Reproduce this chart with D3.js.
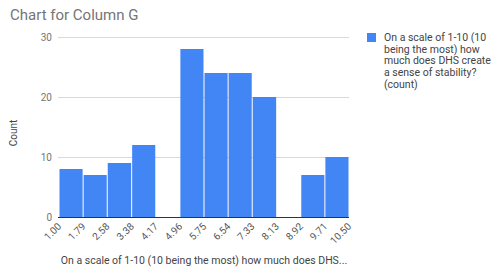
<!DOCTYPE html>
<html><head><meta charset="utf-8">
<script src="https://cdn.jsdelivr.net/npm/d3@7"></script>
<style>body{margin:0;background:#fff;}svg{display:block;font-family:Roboto,"Noto Sans",Arial,sans-serif;}</style>
</head><body><svg id="c" width="491" height="270"></svg>
<script>
const binEdges = [1.00, 1.79, 2.58, 3.38, 4.17, 4.96, 5.75, 6.54, 7.33, 8.13, 8.92, 9.71, 10.50];
const counts = [8, 7, 9, 12, 0, 28, 24, 24, 20, 0, 7, 10];
const yTicks = [0, 10, 20, 30];
const title = "Chart for Column G";
const xTitle = "On a scale of 1-10 (10 being the most) how much does DHS...";
const yTitle = "Count";
const legendLines = ["On a scale of 1-10 (10", "being the most) how", "much does DHS create", "a sense of stability?", "(count)"];

const svg = d3.select("#c");
const x = d3.scaleLinear().domain([1.0, 10.5]).range([59, 349]);
const y = d3.scaleLinear().domain([0, 30]).range([217, 37]);
const bins = counts.map((c, i) => ({x0: binEdges[i], x1: binEdges[i + 1], c}));

svg.append("text").attr("x", 10).attr("y", 20).attr("font-size", 15).attr("fill", "#757575").text(title);

svg.append("g").selectAll("line").data(yTicks.filter(d => d > 0)).join("line")
  .attr("x1", 58).attr("x2", 349).attr("y1", d => y(d)).attr("y2", d => y(d))
  .attr("stroke", "#d9d9d9").attr("stroke-width", 1).attr("shape-rendering", "crispEdges");

svg.append("g").selectAll("text").data(yTicks).join("text")
  .attr("x", 52).attr("y", d => y(d) + 3.5).attr("text-anchor", "end")
  .attr("font-size", 10).attr("fill", "#757575").text(d => d);

svg.append("g").selectAll("rect").data(bins.filter(b => b.c > 0)).join("rect")
  .attr("x", d => x(d.x0) + 0.5).attr("width", d => x(d.x1) - x(d.x0) - 1)
  .attr("y", d => y(d.c)).attr("height", d => y(0) - y(d.c))
  .attr("fill", "#4285f4");

svg.append("line").attr("x1", 58).attr("x2", 349).attr("y1", y(0) + 0.5).attr("y2", y(0) + 0.5)
  .attr("stroke", "#333").attr("stroke-width", 1);

svg.append("g").selectAll("text").data(binEdges).join("text")
  .attr("transform", d => `translate(${x(d) + 3},${y(0) + 10}) rotate(-45)`)
  .attr("text-anchor", "end").attr("font-size", 10).attr("fill", "#555")
  .text(d => d.toFixed(2));

svg.append("text").attr("x", 204).attr("y", 264).attr("text-anchor", "middle")
  .attr("font-size", 10.5).attr("fill", "#444").text(xTitle);

svg.append("text").attr("transform", "translate(17,133) rotate(-90)").attr("text-anchor", "middle")
  .attr("font-size", 10).attr("fill", "#444").text(yTitle);

svg.append("rect").attr("x", 367).attr("y", 33).attr("width", 9).attr("height", 9).attr("fill", "#4285f4");
svg.append("g").selectAll("text").data(legendLines).join("text")
  .attr("x", 384).attr("y", (d, i) => 41 + i * 11.7)
  .attr("font-size", 10.5).attr("fill", "#444").text(d => d);
</script></body></html>
